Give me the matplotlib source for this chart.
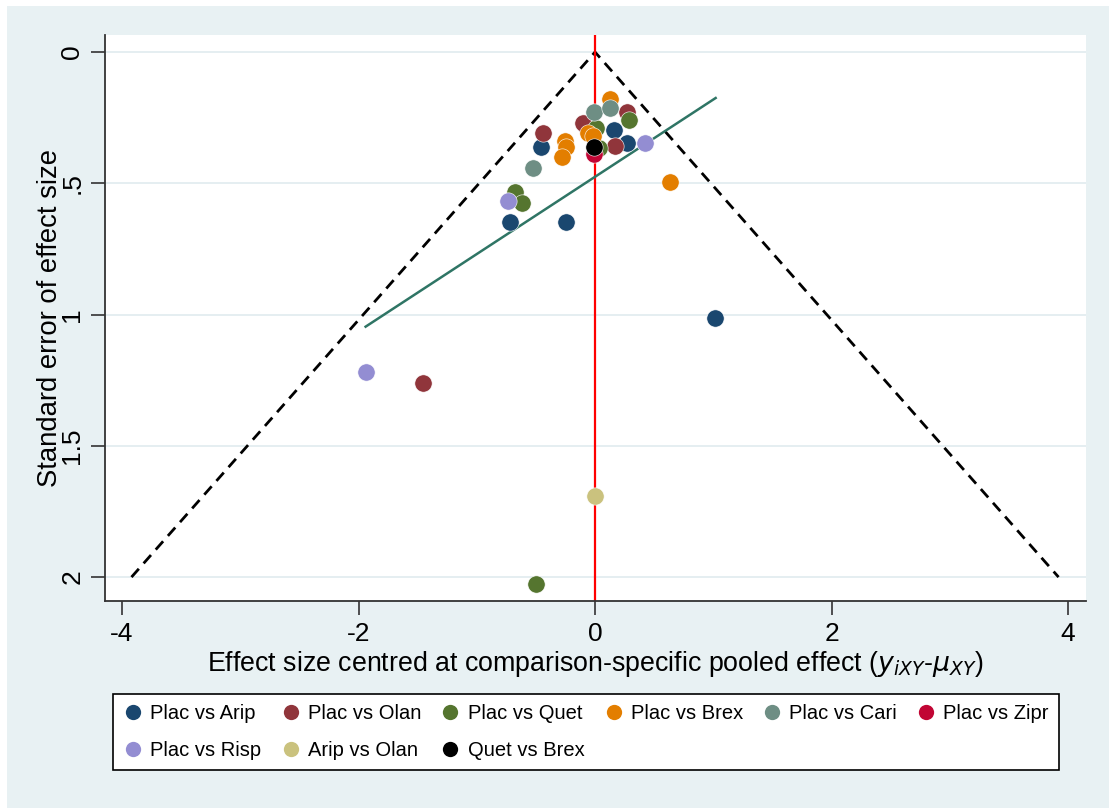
import matplotlib
matplotlib.use("Agg")
import matplotlib.pyplot as plt
from matplotlib.lines import Line2D
from matplotlib.patches import Rectangle
import numpy as np

plt.rcParams['font.family'] = ['Liberation Sans', 'DejaVu Sans']

# ---- data (effect centred, standard error) ----
groups = ["Plac vs Arip", "Plac vs Olan", "Plac vs Quet", "Plac vs Brex",
          "Plac vs Cari", "Plac vs Zipr", "Plac vs Risp", "Arip vs Olan",
          "Quet vs Brex"]
colors = ["#1a476f", "#90353b", "#55752f", "#e37e00", "#6e8e84",
          "#c10534", "#938dd2", "#cac27e", "#000000"]

arip_x = [-0.459, -0.719, -0.245, 1.015, -0.085, 0.160, 0.268]
arip_y = [0.361, 0.646, 0.649, 1.013, 0.279, 0.297, 0.348]
olan_x = [-0.437, 0.268, 0.169, -1.457, -0.100]
olan_y = [0.310, 0.229, 0.358, 1.260, 0.272]
quet_x = [-0.677, -0.620, 0.285, -0.499, 0.005, 0.030]
quet_y = [0.532, 0.576, 0.259, 2.027, 0.288, 0.365]
brex_x = [0.127, -0.254, -0.245, -0.280, -0.060, -0.015, 0.635]
brex_y = [0.179, 0.338, 0.362, 0.400, 0.310, 0.320, 0.494]
cari_x = [-0.010, 0.127, -0.525]
cari_y = [0.227, 0.213, 0.441]
zipr_x = [-0.010]
zipr_y = [0.389]
risp_x = [0.420, -0.740, -1.940]
risp_y = [0.346, 0.567, 1.217]
ariol_x = [0.0]
ariol_y = [1.692]
qubr_x = [-0.010]
qubr_y = [0.361]

series_x = [arip_x, olan_x, quet_x, brex_x, cari_x, zipr_x, risp_x, ariol_x, qubr_x]
series_y = [arip_y, olan_y, quet_y, brex_y, cari_y, zipr_y, risp_y, ariol_y, qubr_y]

# regression line endpoints (x, se)
reg_x = [-1.94, 1.02]
reg_y = [1.046, 0.175]

xticks = [-4, -2, 0, 2, 4]
yticks = [0, 0.5, 1, 1.5, 2]
ytick_labels = ["0", ".5", "1", "1.5", "2"]
se_max = 2.0

W, H = 1109, 808
fig = plt.figure(figsize=(W/100, H/100), dpi=100)
fig.patch.set_facecolor("white")
bg = "#e8f1f3"
fig.patches.append(Rectangle((7/W, 0), 1 - 7/W, 1 - 6/H, transform=fig.transFigure,
                             facecolor=bg, edgecolor="none", zorder=-10))

ax = fig.add_axes([105/W, 1 - 601/H, (1086-105)/W, (601-35)/H])
ax.set_facecolor("white")

ax.set_xlim(-4.144, 4.152)
ax.set_ylim(2.091, -0.065)

for yt in yticks:
    ax.axhline(yt, color="#e3edf0", lw=1.3, zorder=0)

# funnel
ax.plot([-1.96*se_max, 0, 1.96*se_max], [se_max, 0, se_max], ls=(0, (4, 2.6)),
        color="black", lw=2.0, zorder=1)
ax.axvline(0, color="#ff0000", lw=1.6, zorder=1)
ax.plot(reg_x, reg_y, color="#2f7565", lw=1.8, zorder=1)

for xs, ys, c in zip(series_x, series_y, colors):
    ax.scatter(xs, ys, s=155, color=c, edgecolors="white", linewidths=0.4, zorder=3)

ax.set_xticks(xticks)
ax.set_xticklabels([str(t) for t in xticks])
ax.set_yticks(yticks)
ax.set_yticklabels(ytick_labels, rotation=90, va="center")
ax.tick_params(axis="both", direction="out", length=10, width=1.2, labelsize=19,
               color="#333333")
ax.tick_params(axis="x", pad=5)
ax.tick_params(axis="y", pad=5)

for s in ["top", "right"]:
    ax.spines[s].set_visible(False)
for s in ["left", "bottom"]:
    ax.spines[s].set_linewidth(1.3)
    ax.spines[s].set_color("#333333")

ax.set_xlabel(r"Effect size centred at comparison-specific pooled effect ($y_{iXY}$-$\mu_{XY}$)",
              fontsize=19.3)
ax.xaxis.set_label_coords(0.5, -0.085)
ax.set_ylabel("Standard error of effect size", fontsize=19.8)
ax.yaxis.set_label_coords(-0.043, 0.5)

# legend: matplotlib fills column-wise; reorder so that rows read in the original order
order = [0, 6, 1, 7, 2, 8, 3, 4, 5]
handles = [Line2D([], [], marker="o", ls="none", color=colors[i], markersize=11,
                  markeredgewidth=0) for i in order]
labels = [groups[i] for i in order]
leg = fig.legend(handles, labels, ncol=6, loc="center",
                 bbox_to_anchor=(586/W, 1 - 732/H), fontsize=14.5, frameon=True,
                 fancybox=False, edgecolor="black", facecolor="white", framealpha=1.0,
                 handletextpad=0.35, columnspacing=0.95, handlelength=1.0,
                 borderpad=0.5, labelspacing=0.9)
leg.get_frame().set_linewidth(1.2)

fig.savefig("out.png", dpi=100, facecolor=fig.get_facecolor())
